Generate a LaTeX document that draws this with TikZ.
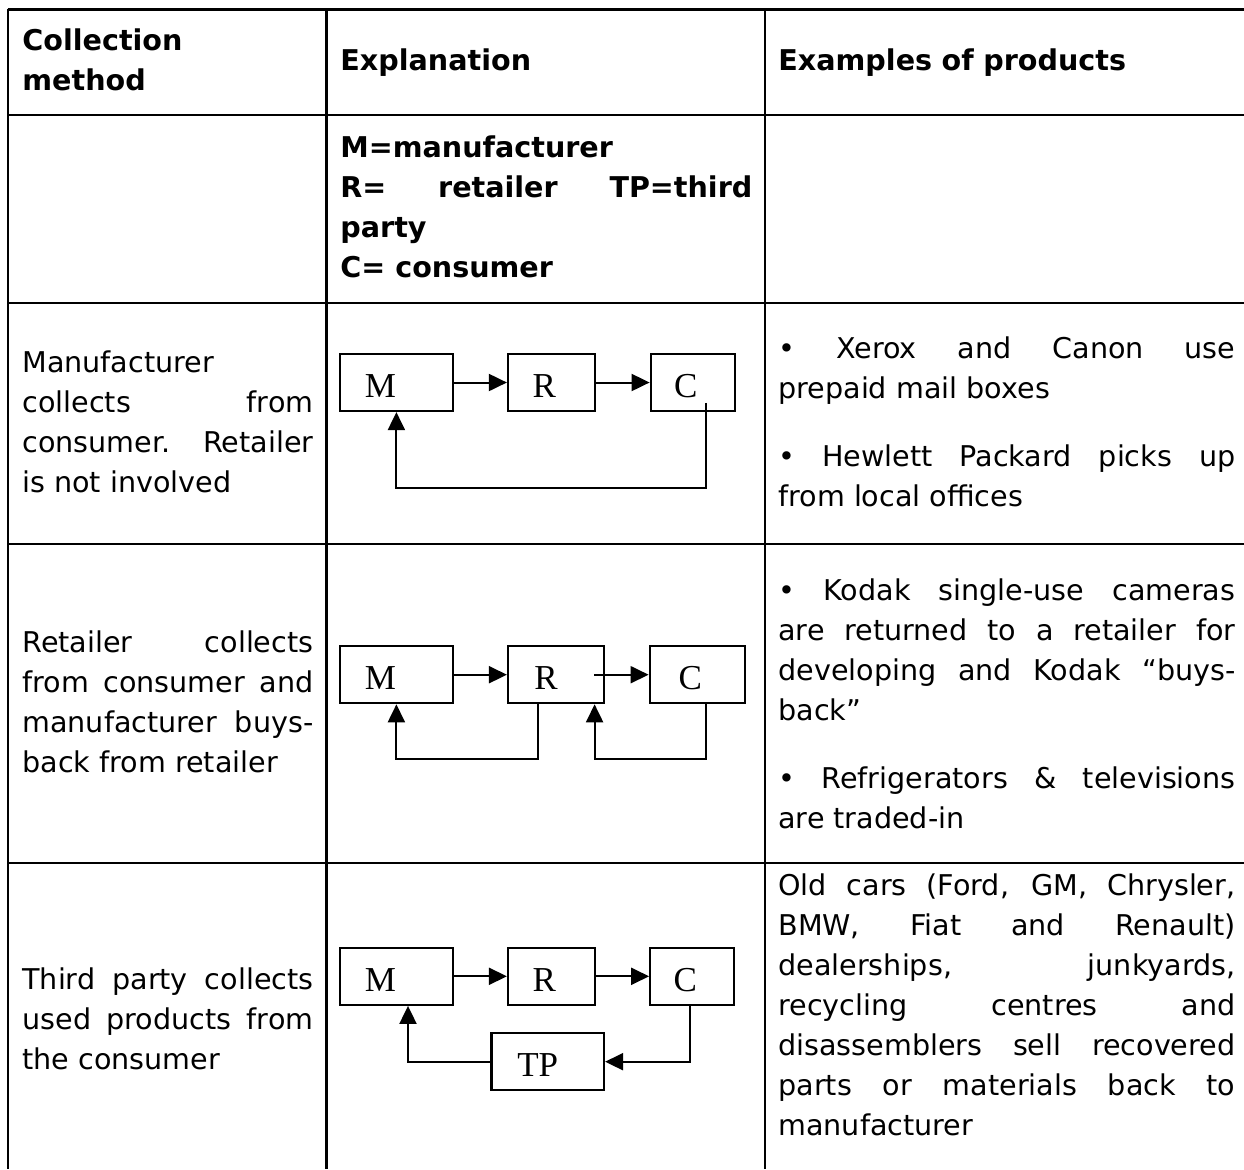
\documentclass[tikz,border=0pt]{standalone}
\usepackage{fontspec}
\setmainfont{DejaVu Sans}
\newfontfamily\diagfont{Liberation Serif}
\usetikzlibrary{arrows.meta}

\begin{document}
\begin{tikzpicture}
      [x=0.5pt,y=-0.5pt,
       cell/.style={anchor=base west,inner sep=0pt,align=justify,
         font=\fontsize{14.3}{20}\selectfont},
       hdcell/.style={cell,align=left,font=\fontsize{14.3}{20}\selectfont\bfseries},
       box/.style={draw,line width=1.1pt,inner sep=0pt,minimum height=28.5pt,
         text height=15pt,text depth=0pt,font=\diagfont\fontsize{17.5}{17.5}\selectfont},
       arr/.style={line width=1pt,-{Triangle[length=9pt,width=8.5pt]}},
       hline/.style={line width=1pt}]
      \useasboundingbox (0,0) rectangle (1244,1169);

      \draw [line width=1.6pt] (7.5,9.5) -- (1244,9.5);
      \draw [hline] (8,9) -- (8,1169);
      \foreach \x in {326.5,765}
      \draw [line width=1.4pt] (\x,9.5) -- (\x,1169);
      \foreach \y in {115,303,544,863}
      \draw [hline] (8,\y) -- (1244,\y);

      \node [hdcell,text width=145.5pt] (hdmethod) at (22,50) {Collection\\method};
      \node [hdcell,text width=206pt] (hdexpl) at (340,70) {Explanation};
      \node [hdcell,text width=228.5pt] (hdexamples) at (778,70) {Examples of products};
      \node [cell,text width=206pt] (key) at (340,157)
        {\bfseries M=manufacturer\par R= retailer TP=third\linebreak party\par C= consumer};

      \node [cell,text width=145.5pt] (meth1) at (22,372)
        {Manufacturer\linebreak collects from\linebreak consumer.\ \ Retailer\linebreak is not involved};
      \node [cell,text width=228.5pt] (ex1) at (778,358)
        {\textbullet\ Xerox and Canon use\linebreak prepaid mail boxes\par\vspace{14pt}%
         \textbullet\ Hewlett Packard picks up\linebreak from local offices};
      \node [cell,text width=145.5pt] (meth2) at (22,652)
        {Retailer collects\linebreak from consumer and\linebreak manufacturer buys-\linebreak back from retailer};
      \node [cell,text width=228.5pt] (ex2) at (778,600)
        {\textbullet\ Kodak single-use cameras\linebreak are returned to a retailer for\linebreak
         developing and Kodak “buys-\linebreak back”\par\vspace{14pt}%
         \textbullet\ Refrigerators \& televisions\linebreak are traded-in};
      \node [cell,text width=145.5pt] (meth3) at (22,989)
        {Third party collects\linebreak used products from\linebreak the consumer};
      \node [cell,text width=228.5pt] (ex3) at (778,895)
        {Old cars (Ford, GM, Chrysler,\linebreak BMW, Fiat and Renault)\linebreak
         dealerships, junkyards,\linebreak recycling centres and\linebreak
         disassemblers sell recovered\linebreak parts or materials back to\linebreak manufacturer};

      \node [box,minimum width=56.5pt] (m1) at (396.4,382.5) {M\kern16pt};
      \node [box,minimum width=43.3pt] (r1) at (551.3,382.5) {R\kern7pt};
      \node [box,minimum width=42pt] (c1) at (692.7,382.5) {C\kern7pt};

      \node [box,minimum width=56.5pt] (m2) at (396.4,674.7) {M\kern16pt};
      \node [box,minimum width=48pt] (r2) at (556,674.7) {R\kern10pt};
      \node [box,minimum width=47.5pt] (c2) at (697.2,674.7) {C\kern7pt};

      \node [box,minimum width=56.5pt] (m3) at (396.4,976.3) {M\kern16pt};
      \node [box,minimum width=43.3pt] (r3) at (551.3,976.3) {R\kern7pt};
      \node [box,minimum width=42pt] (c3) at (692.2,976.3) {C\kern7pt};
      \node [box,minimum width=56.3pt] (tp) at (547.7,1061.7) {TP\kern10pt};

      \foreach \from/\to in {m1/r1, r1/c1, m2/r2, m3/r3, r3/c3}
      \draw [arr] (\from) -- (\to);
      \draw [arr] ([xshift=-5.5pt]r2.east) -- (c2.west);

      \draw [arr] ([xshift=6.8pt,yshift=4.6pt]c1.south) |- ([yshift=-37.8pt]m1.south) -- (m1.south);
      \draw [arr] ([xshift=-9pt]r2.south) |- ([yshift=-27.5pt]m2.south) -- (m2.south);
      \draw [arr] ([xshift=4.5pt]c2.south) |- ([xshift=19.3pt,yshift=-27.5pt]r2.south) -- ([xshift=19.3pt]r2.south);
      \draw [arr] ([xshift=-1.2pt]c3.south) |- (tp.east);
      \draw [arr] (tp.west) -| ([xshift=5.8pt]m3.south);
    \end{tikzpicture}
\end{document}
